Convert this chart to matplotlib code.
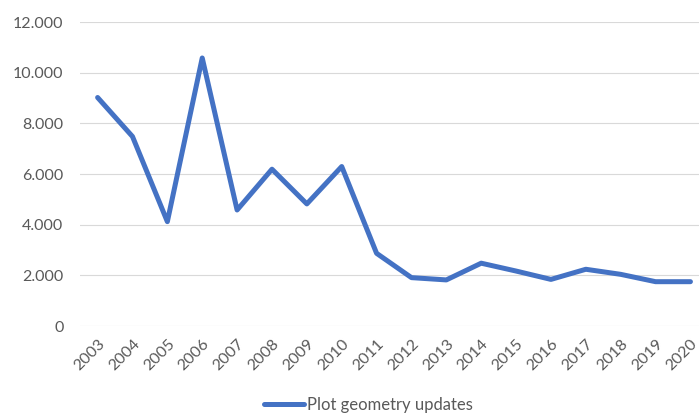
import matplotlib.pyplot as plt
from matplotlib.ticker import FuncFormatter

years = [str(y) for y in range(2003, 2021)]
updates = [9020, 7480, 4120, 10580, 4580, 6190, 4820, 6295, 2870,
           1910, 1820, 2480, 2170, 1840, 2240, 2040, 1750, 1750]
series_name = 'Plot geometry updates'

plt.rcParams['font.family'] = ['Lato', 'DejaVu Sans']

fig = plt.figure(figsize=(6.99, 4.16), dpi=100)
ax = fig.add_axes([0.1147, 0.2163, 0.898, 0.7308])

x = range(len(years))
ax.plot(x, updates, color='#4472C4', lw=3.6, solid_joinstyle='round',
        solid_capstyle='round', label=series_name)

ax.set_xlim(-0.5, len(years) - 0.5)
ax.set_ylim(0, 12000)
ax.set_yticks(range(0, 12001, 2000))
ax.yaxis.set_major_formatter(FuncFormatter(lambda v, p: '{:,.0f}'.format(v).replace(',', '.')))
ax.set_xticks(list(x))
ax.set_xticklabels(years, rotation=45, ha='right', rotation_mode='anchor')

ax.grid(axis='y', color='#D9D9D9', lw=0.8)
ax.set_axisbelow(True)
for s in ax.spines.values():
    s.set_visible(False)
ax.tick_params(axis='both', length=0, colors='#595959', labelsize=11.5)
ax.tick_params(axis='y', pad=12)
ax.tick_params(axis='x', pad=8)

# reference crops the legend at the bottom edge; keep it just inside
fig.legend(loc='center', bbox_to_anchor=(0.527, 0.026), frameon=False,
           handlelength=2.4, handletextpad=0.2, fontsize=12,
           labelcolor='#595959', borderpad=0.0)

fig.savefig('out.png', dpi=100)
